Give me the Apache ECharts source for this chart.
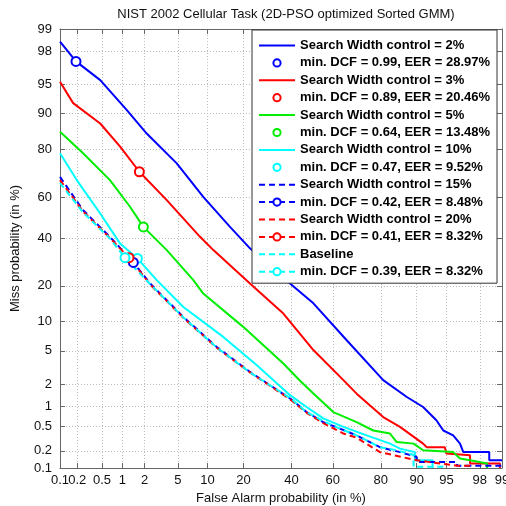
<!DOCTYPE html>
<html>
<head>
<meta charset="utf-8">
<script src="https://cdn.jsdelivr.net/npm/echarts@6/dist/echarts.min.js"></script>
<style>
  html, body { margin: 0; padding: 0; background: #fff; }
  #chart { width: 506px; height: 506px; }
</style>
</head>
<body>
<div id="chart"></div>
<script>
// tick labels (in %), used on both axes
const tickLabels = [0.1, 0.2, 0.5, 1, 2, 5, 10, 20, 40, 60, 80, 90, 95, 98, 99]

// DET curves: [false alarm %, miss %]
const sw2 = [[0.10, 98.5], [0.19, 97.3], [0.47, 95.5], [1.15, 90.8], [2.13, 85.0], [4.85, 74.8], [9.1, 60.1], [15.7, 45.4], [22.3, 35.2], [39.3, 20.8], [50.6, 14.5], [66.4, 6.5], [80.8, 2.24], [87.7, 1.34], [91.3, 0.97], [93.6, 0.62], [94.6, 0.43], [95.8, 0.36], [96.5, 0.264], [96.8, 0.19], [98.5, 0.19], [98.5, 0.137], [99, 0.137]]
const sw3 = [[0.10, 95.3], [0.17, 92.1], [0.47, 87.7], [0.93, 80.9], [1.71, 71.4], [3.74, 58.5], [8.47, 40.6], [11.3, 34.4], [22.3, 20.8], [36.2, 11.8], [50.6, 5.1], [64.9, 2.24], [70.7, 1.49], [80.8, 0.69], [85.9, 0.49], [91.3, 0.264], [92.0, 0.23], [94.8, 0.23], [95.0, 0.18], [97.35, 0.168], [97.35, 0.12], [98.93, 0.12], [98.93, 0.1]]
const sw5 = [[0.10, 85.5], [0.25, 78.6], [0.66, 67.8], [1.28, 55.3], [1.93, 45.4], [3.74, 34.4], [7.27, 22.0], [9.1, 17.4], [19.9, 8.87], [36.2, 3.59], [44.1, 2.2], [50.6, 1.5], [60.2, 0.82], [70.7, 0.58], [77.3, 0.43], [83.0, 0.385], [85.0, 0.28], [89.3, 0.264], [91.3, 0.204], [95.8, 0.19], [96.5, 0.147], [97.35, 0.137], [98.4, 0.12], [98.4, 0.1]]
const sw10 = [[0.10, 78.6], [0.196, 67.8], [0.47, 52.0], [0.93, 37.4], [1.61, 30.7], [2.84, 22.0], [5.72, 13.5], [13.8, 7.04], [24.9, 3.42], [39.3, 1.42], [47.3, 0.97], [55.4, 0.66], [64.9, 0.49], [74.8, 0.36], [83.0, 0.264], [85.9, 0.218], [89.6, 0.19], [89.6, 0.137], [93.0, 0.137], [93.0, 0.1]]
const sw15 = [[0.10, 69.2], [0.25, 53.6], [0.66, 40.6], [1.42, 29.0], [2.35, 20.8], [5.72, 11.0], [12.1, 5.52], [22.3, 2.84], [39.3, 1.28], [47.3, 0.82], [55.4, 0.58], [63.3, 0.46], [70.7, 0.36], [79.7, 0.23], [85.9, 0.19], [90.0, 0.157], [90.0, 0.128], [96.2, 0.128], [96.2, 0.11], [99, 0.11]]
const sw20 = [[0.10, 67.8], [0.25, 53.0], [0.66, 40.0], [1.24, 31.0], [2.35, 20.5], [5.72, 10.8], [12.1, 5.4], [22.3, 2.8], [39.3, 1.25], [47.3, 0.8], [55.4, 0.56], [64.9, 0.385], [70.7, 0.33], [79.7, 0.19], [90.0, 0.137], [96.2, 0.11], [97.35, 0.11], [97.35, 0.1]]
const baseline = [[0.10, 66.5], [0.25, 52.5], [0.66, 39.8], [1.09, 31.0], [2.35, 20.6], [5.72, 10.9], [12.1, 5.45], [22.3, 2.8], [39.3, 1.3], [47.3, 0.82], [55.4, 0.6], [63.3, 0.46], [70.7, 0.36], [79.7, 0.23], [85.0, 0.204], [89.3, 0.17], [89.3, 0.105], [94.6, 0.105], [94.6, 0.1]]

// min DCF operating points
const dcf2 = [[0.19, 97.3]]
const dcf3 = [[1.71, 71.4]]
const dcf5 = [[1.93, 45.4]]
const dcf10 = [[1.61, 30.7]]
const dcf15 = [[1.42, 29.0]]
const dcf20 = [[1.24, 31.0]]
const dcfBase = [[1.09, 31.0]]

// inverse normal cdf (Acklam)
function probit (p) {
  const a = [-3.969683028665376e+01, 2.209460984245205e+02, -2.759285104469687e+02, 1.383577518672690e+02, -3.066479806614716e+01, 2.506628277459239e+00]
  const b = [-5.447609879822406e+01, 1.615858368580409e+02, -1.556989798598866e+02, 6.680131188771972e+01, -1.328068155288572e+01]
  const c = [-7.784894002430293e-03, -3.223964580411365e-01, -2.400758277161838e+00, -2.549732539343734e+00, 4.374664141464968e+00, 2.938163982698783e+00]
  const d = [7.784695709041462e-03, 3.224671290700398e-01, 2.445134137142996e+00, 3.754408661907416e+00]
  const pl = 0.02425
  let q, r
  if (p < pl) {
    q = Math.sqrt(-2 * Math.log(p))
    return (((((c[0] * q + c[1]) * q + c[2]) * q + c[3]) * q + c[4]) * q + c[5]) / ((((d[0] * q + d[1]) * q + d[2]) * q + d[3]) * q + 1)
  }
  if (p <= 1 - pl) {
    q = p - 0.5
    r = q * q
    return (((((a[0] * r + a[1]) * r + a[2]) * r + a[3]) * r + a[4]) * r + a[5]) * q / (((((b[0] * r + b[1]) * r + b[2]) * r + b[3]) * r + b[4]) * r + 1)
  }
  q = Math.sqrt(-2 * Math.log(1 - p))
  return -(((((c[0] * q + c[1]) * q + c[2]) * q + c[3]) * q + c[4]) * q + c[5]) / ((((d[0] * q + d[1]) * q + d[2]) * q + d[3]) * q + 1)
}

const toDev = pts => pts.map(p => [probit(p[0] / 100), probit(p[1] / 100)])
const tickPos = tickLabels.map(t => probit(t / 100))
const axMin = tickPos[0]
const axMax = tickPos[tickPos.length - 1]
const tickFmt = v => {
  const i = tickPos.findIndex(t => Math.abs(t - v) < 1e-9)
  return i >= 0 ? String(tickLabels[i]) : ''
}
// x labels are crowded at the left end: split them over two overlaid axes
const xLabelsA = tickPos.filter((t, i) => i !== 1)
const xLabelsB = [tickPos[1]]

const FONT = 'Liberation Sans, Arial, sans-serif'
const AXIS_COLOR = '#666'
const dash = [6, 4]

function curve (name, pts, color, dashed) {
  return {
    name,
    type: 'line',
    data: toDev(pts),
    symbol: 'none',
    lineStyle: { color, width: 2, type: dashed ? dash : 'solid' },
    itemStyle: { color },
    clip: true
  }
}
function marker (name, pts, color, dashed) {
  return {
    name,
    type: 'line',
    data: toDev(pts),
    symbol: 'emptyCircle',
    symbolSize: 9,
    showSymbol: true,
    lineStyle: { color, width: 2, type: dashed ? dash : 'solid' },
    itemStyle: { color, borderWidth: 1.5 },
    z: 5
  }
}

const series = [
  curve('Search Width control = 2%', sw2, '#0000ff', false),
  marker('min. DCF = 0.99, EER = 28.97%', dcf2, '#0000ff', false),
  curve('Search Width control = 3%', sw3, '#ff0000', false),
  marker('min. DCF = 0.89, EER = 20.46%', dcf3, '#ff0000', false),
  curve('Search Width control = 5%', sw5, '#00ee00', false),
  marker('min. DCF = 0.64, EER = 13.48%', dcf5, '#00ee00', false),
  curve('Search Width control = 10%', sw10, '#00ffff', false),
  marker('min. DCF = 0.47, EER = 9.52%', dcf10, '#00ffff', false),
  curve('Search Width control = 15%', sw15, '#0000ff', true),
  marker('min. DCF = 0.42, EER = 8.48%', dcf15, '#0000ff', true),
  curve('Search Width control = 20%', sw20, '#ff0000', true),
  marker('min. DCF = 0.41, EER = 8.32%', dcf20, '#ff0000', true),
  curve('Baseline', baseline, '#00ffff', true),
  marker('min. DCF = 0.39, EER = 8.32%', dcfBase, '#00ffff', true)
]

// legend: hide the circle on curve entries, hide the line on solid marker entries
const legendData = series.map((s, i) => {
  if (i % 2 === 0) return { name: s.name, itemStyle: { opacity: 0 } }
  if (i < 8) return { name: s.name, lineStyle: { opacity: 0 } }
  return { name: s.name }
})

const labelStyle = { formatter: tickFmt, showMinLabel: true, showMaxLabel: true, hideOverlap: false, color: '#111', fontSize: 13, fontFamily: FONT }

const baseAxis = {
  type: 'value',
  min: axMin,
  max: axMax,
  axisLine: { show: true, onZero: false, lineStyle: { color: AXIS_COLOR, width: 1 } },
  axisTick: { show: true, inside: true, length: 5, customValues: tickPos, lineStyle: { color: AXIS_COLOR } },
  axisLabel: Object.assign({ show: true, customValues: tickPos }, labelStyle),
  splitLine: { show: true, lineStyle: { color: '#bbb', type: [1, 2], width: 1 } }
}
const sideAxis = {
  type: 'value',
  min: axMin,
  max: axMax,
  axisLine: { show: true, onZero: false, lineStyle: { color: AXIS_COLOR, width: 1 } },
  axisTick: { show: true, inside: true, length: 5, customValues: tickPos, lineStyle: { color: AXIS_COLOR } },
  axisLabel: { show: false },
  splitLine: { show: false }
}

const chart = echarts.init(document.getElementById('chart'))
chart.setOption({
  animation: false,
  backgroundColor: '#fff',
  title: {
    text: 'NIST 2002 Cellular Task (2D-PSO optimized Sorted GMM)',
    left: 281,
    top: 3,
    textAlign: 'center',
    textStyle: { fontSize: 13, fontWeight: 'normal', color: '#111', fontFamily: FONT }
  },
  grid: { left: 60, right: 4, top: 29, bottom: 38, containLabel: false, outerBoundsMode: 'none' },
  legend: {
    data: legendData,
    orient: 'vertical',
    left: 252,
    top: 30,
    padding: [9, 7, 5, 6],
    itemWidth: 36,
    itemHeight: 9,
    itemGap: 4.4,
    selectedMode: false,
    backgroundColor: '#fff',
    borderColor: '#333',
    borderWidth: 1,
    borderRadius: 0,
    textStyle: { fontSize: 13, lineHeight: 13, fontWeight: 'bold', color: '#000', fontFamily: FONT }
  },
  xAxis: [
    Object.assign({}, baseAxis, {
      position: 'bottom',
      name: 'False Alarm probability (in %)',
      nameLocation: 'middle',
      nameGap: 23,
      nameTextStyle: { fontSize: 13, color: '#111', fontFamily: FONT },
      axisLabel: Object.assign({ show: true, customValues: xLabelsA, margin: 6 }, labelStyle)
    }),
    Object.assign({}, sideAxis, { position: 'top' }),
    {
      type: 'value',
      position: 'bottom',
      min: axMin,
      max: axMax,
      axisLine: { show: false, onZero: false },
      axisTick: { show: false },
      splitLine: { show: false },
      axisLabel: Object.assign({ show: true, customValues: xLabelsB, margin: 6 }, labelStyle)
    }
  ],
  yAxis: [
    Object.assign({}, baseAxis, {
      position: 'left',
      name: 'Miss probability (in %)',
      nameLocation: 'middle',
      nameGap: 38,
      nameTextStyle: { fontSize: 13, color: '#111', fontFamily: FONT },
      axisLabel: Object.assign({ show: true, customValues: tickPos, margin: 8 }, labelStyle)
    }),
    Object.assign({}, sideAxis, { position: 'right' })
  ],
  series
})
</script>
</body>
</html>
